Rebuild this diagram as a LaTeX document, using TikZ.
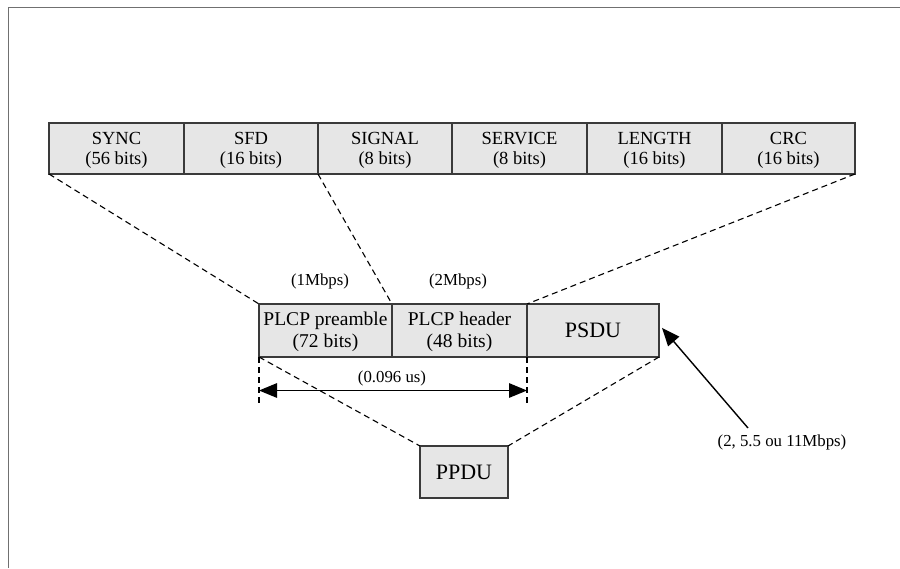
\documentclass[tikz,border=0pt]{standalone}
\usepackage{fontspec}
\setmainfont{Liberation Serif}
\usetikzlibrary{arrows.meta,calc}
\definecolor{boxfill}{HTML}{E6E6E6}
\definecolor{boxline}{HTML}{3A3A3A}
\definecolor{framegray}{HTML}{707070}
% taller first line, so two-line labels sit a little lower in their boxes
\newcommand\firstln{\rule{0pt}{16.5pt}}
\tikzset{
  field/.style={draw=boxline, fill=boxfill, line width=1.2pt, inner sep=0pt,
    outer sep=0pt, align=center, font=\fontsize{18.5}{20}\selectfont},
  midfield/.style={field, font=\fontsize{19.5}{22}\selectfont},
  bigfield/.style={field, font=\fontsize{22}{22}\selectfont},
  zoomline/.style={line width=1.1pt, dash pattern=on 6pt off 4pt},
  smalllabel/.style={font=\fontsize{16.8}{17}\selectfont, inner sep=0pt},
  bigtip/.tip={Triangle[length=18pt,width=14.5pt]},
  rateline/.style={line width=1.4pt, -bigtip},
  spanline/.style={line width=1.4pt, bigtip-bigtip},
}
\begin{document}
\begin{tikzpicture}[x=1pt, y=-1pt]
\useasboundingbox (0,0) rectangle (900,568);
% outer frame (top and left sides only)
\draw[framegray, line width=1.8pt] (8.5,568) -- (8.5,7.5) -- (900,7.5);

% PLCP header fields
\node[field, minimum width=135, minimum height=51] (sync)    at (116.5,148.5) {\firstln SYNC\\(56 bits)};
\node[field, minimum width=134, minimum height=51] (sfd)     at (251,148.5)   {\firstln SFD\\(16 bits)};
\node[field, minimum width=134, minimum height=51] (signal)  at (385,148.5)   {\firstln SIGNAL\\(8 bits)};
\node[field, minimum width=135, minimum height=51] (service) at (519.5,148.5) {\firstln SERVICE\\(8 bits)};
\node[field, minimum width=135, minimum height=51] (length)  at (654.5,148.5) {\firstln LENGTH\\(16 bits)};
\node[field, minimum width=133, minimum height=51] (crc)     at (788.5,148.5) {\firstln CRC\\(16 bits)};

% PPDU parts
\node[midfield, minimum width=133, minimum height=53] (pre)  at (325.5,330.5) {\firstln PLCP preamble\\(72 bits)};
\node[midfield, minimum width=135, minimum height=53] (hdr)  at (459.5,330.5) {\firstln PLCP header\\(48 bits)};
\node[bigfield, minimum width=132, minimum height=53] (psdu) at (593,330.5)   {PSDU};

% whole frame
\node[bigfield, minimum width=88, minimum height=52] (ppdu) at (464,472) {PPDU};

% zoom lines between levels
\draw[zoomline] (sync.south west) -- (pre.north west);
\draw[zoomline] (signal.south west) -- (pre.north east);
\draw[zoomline] (crc.south east) -- (hdr.north east);
\draw[zoomline] (pre.south west) -- (ppdu.north west);
\draw[zoomline] (psdu.south east) -- (ppdu.north east);

% rate labels
\node[smalllabel] (r1) at (320,281) {(1Mbps)};
\node[smalllabel] (r2) at (458,281) {(2Mbps)};

% duration of preamble + header
\coordinate (tl) at ([yshift=-49pt]pre.south west);
\coordinate (tr) at ([yshift=-49pt]hdr.south east);
\draw[zoomline] (pre.south west) -- (tl);
\draw[zoomline] (hdr.south east) -- (tr);
\coordinate (al) at ([yshift=-33.5pt]pre.south west);
\coordinate (ar) at ([yshift=-33.5pt]hdr.south east);
\draw[spanline] (al) -- (ar);
\node[smalllabel] (dur) at (392,378) {(0.096 us)};

% PSDU data rate
\node[smalllabel] (rate) at (782,442) {(2, 5.5 ou 11Mbps)};
\coordinate (rs) at (748,428);
\coordinate (rt) at ($(psdu.north east)!0.45!(psdu.south east)+(3,0)$);
\draw[rateline] (rs) -- (rt);
\end{tikzpicture}
\end{document}
